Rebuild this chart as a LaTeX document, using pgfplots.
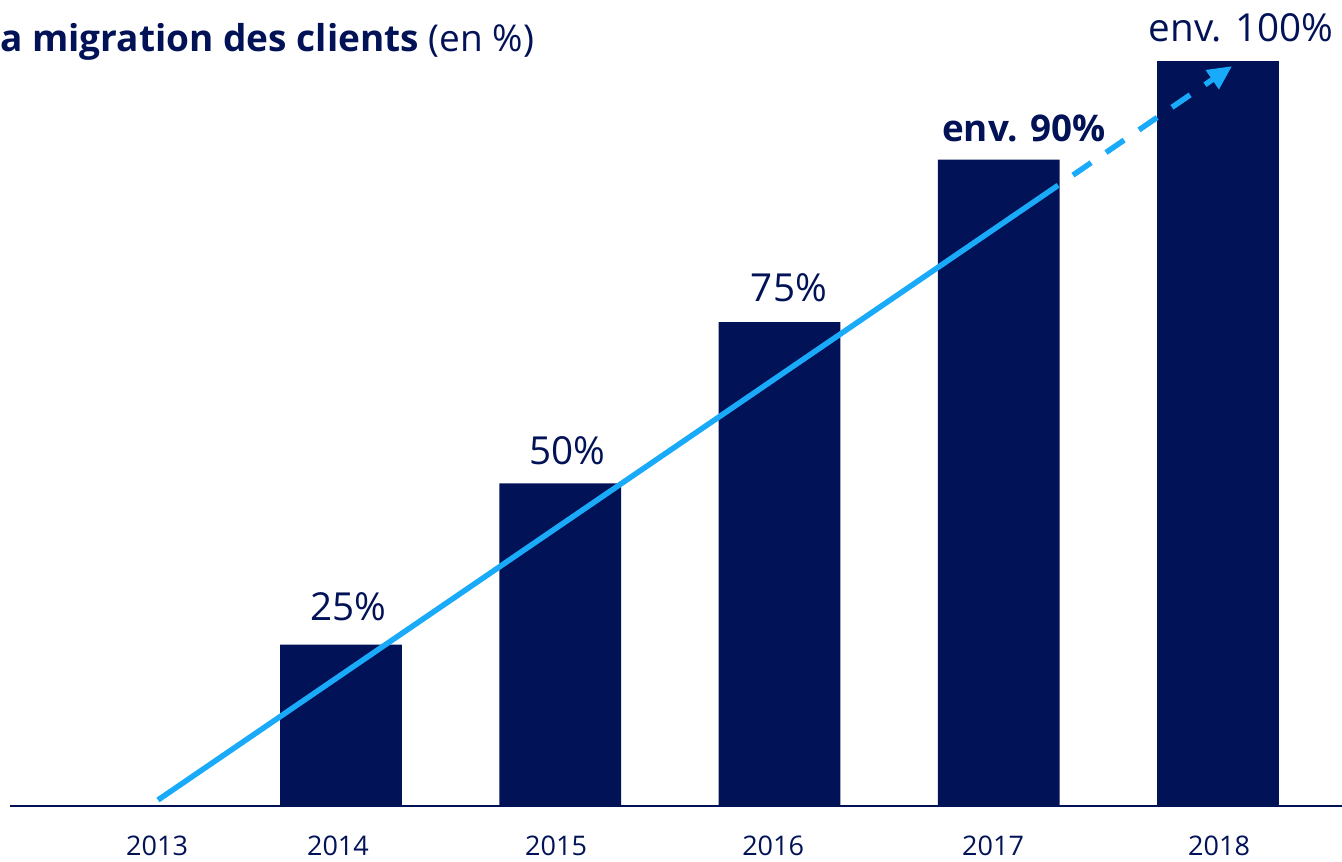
\documentclass[border=0pt]{standalone}
\usepackage{fontspec}
\setmainfont{Open Sans}
\usepackage{pgfplots}
\pgfplotsset{compat=1.18}
\usetikzlibrary{arrows.meta}
\definecolor{navy}{RGB}{2,18,87}
\definecolor{sky}{RGB}{26,170,250}
\begin{document}
\begin{tikzpicture}
\begin{axis}[
  at={(0,0)}, anchor=south west,
  scale only axis, width=666pt, height=430.5pt,
  xmin=2012.4903, xmax=2018.5656, ymin=-8.527, ymax=124.96,
  axis x line=middle, axis y line=none,
  x axis line style={navy, line width=1.4pt, -},
  xtick={2013.161,2013.986,2014.981,2015.971,2016.974,2018.005},
  xticklabels={2013,2014,2015,2016,2017,2018},
  xtick style={draw=none},
  major tick length=0pt,
  xticklabel style={font=\fontsize{13.5}{16}\selectfont, text=navy, anchor=center, yshift=-20pt},
  ytick=\empty,
  clip=false,
  /pgf/number format/assume math mode=true,
]
% bars (drawn heights as in the picture)
\addplot[ybar, bar width=0.556, fill=navy, draw=none] coordinates {
  (2014,25) (2015,50) (2016,75) (2017,100.2) (2018,115.5)
};
% trend line
\addplot[sky, line width=2.75pt] coordinates {(2013.1653,0.93) (2017.188,94.3)};
\addplot[sky, line width=2.75pt, dash pattern=on 11pt off 9pt, -{Triangle[length=12pt,width=11pt]}] coordinates {(2017.188,94.3) (2018.064,114.7)};
% value labels
\node[text=navy, font=\fontsize{19.3}{22}\selectfont] at (axis cs:2014.032,30.85) {25\%};
\node[text=navy, font=\fontsize{19.3}{22}\selectfont] at (axis cs:2015.031,55.04) {50\%};
\node[text=navy, font=\fontsize{19.3}{22}\selectfont] at (axis cs:2016.043,80.3) {75\%};
\node[text=navy, font=\fontsize{18.4}{22}\selectfont\bfseries] at (axis cs:2017.115,105.1) {env. 90\%};
\node[text=navy, font=\fontsize{19.3}{22}\selectfont] at (axis cs:2018.105,120.6) {env. 100\%};
% title
\node[anchor=base west, inner sep=0pt, text=navy, font=\fontsize{18.5}{22}\selectfont] at (axis cs:2012.4447,116.9) {\textbf{a migration des clients} (en~\%)};
\end{axis}
\pgfresetboundingbox
\path[use as bounding box] (-5pt,0pt) rectangle (666pt,430.5pt);
\end{tikzpicture}
\end{document}
